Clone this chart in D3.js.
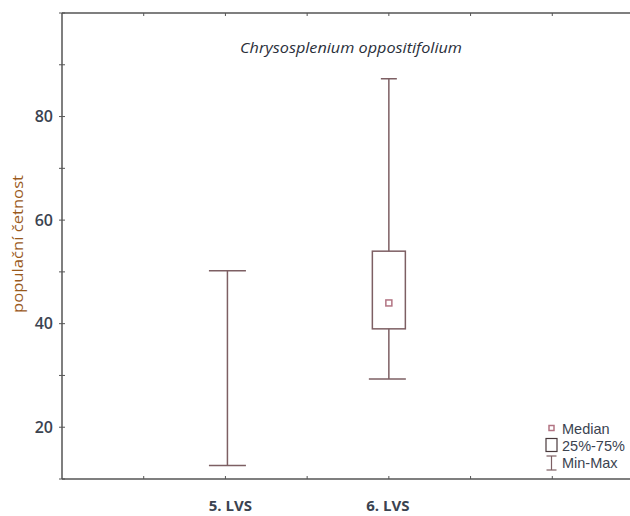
<!DOCTYPE html>
<html><head><meta charset="utf-8">
<script src="https://cdn.jsdelivr.net/npm/d3@7"></script>
<style>body{margin:0;background:#fff;}svg{display:block;}</style>
</head><body>
<svg id="c" width="630" height="516"></svg>
<script>
const categories = ["5. LVS", "6. LVS"];
const catPositions = [2, 4];
const minValues = [12.6, 29.3];
const maxValues = [50.2, 87.3];
const q1Values = [null, 39];
const q3Values = [null, 54];
const medianValues = [null, 44];
const yTicks = [20, 40, 60, 80];
const yMinorTicks = [10, 30, 50, 70, 90, 100];
const xTicks = [1, 2, 3, 4, 5, 6, 7];
const title = "Chrysosplenium oppositifolium";
const yLabel = "populační četnost";
const legendLabels = ["Median", "25%-75%", "Min-Max"];

(function () {
const svg = d3.select("#c");
const pl = 62, pt = 13, pb = 479, pr = 634;
const x = d3.scaleLinear().domain([0, 7]).range([pl, pr]);
const y = d3.scaleLinear().domain([10, 100]).range([pb, pt]);
const axisCol = "#555", markCol = "#7d5f63", medCol = "#b27483";
const font = "'Open Sans', 'Noto Sans', sans-serif";
const txtCol = "#3b4350";

// frame
svg.append("line").attr("x1", pl).attr("x2", 630).attr("y1", pt).attr("y2", pt).attr("stroke", axisCol).attr("stroke-width", 1.5);
svg.append("line").attr("x1", pl).attr("x2", 630).attr("y1", pb).attr("y2", pb).attr("stroke", axisCol).attr("stroke-width", 1.5);
svg.append("line").attr("x1", pl).attr("x2", pl).attr("y1", pt).attr("y2", pb).attr("stroke", axisCol).attr("stroke-width", 1.5);

// x ticks top & bottom
xTicks.forEach(t => {
  svg.append("line").attr("x1", x(t)).attr("x2", x(t)).attr("y1", pt).attr("y2", pt + 3).attr("stroke", axisCol);
  svg.append("line").attr("x1", x(t)).attr("x2", x(t)).attr("y1", pb).attr("y2", pb - 3).attr("stroke", axisCol);
});
// y ticks
yTicks.concat(yMinorTicks).forEach(t => {
  svg.append("line").attr("x1", pl - 3).attr("x2", pl + 3).attr("y1", y(t)).attr("y2", y(t)).attr("stroke", axisCol);
});
yTicks.forEach(t => {
  svg.append("text").attr("x", 53).attr("y", y(t)).attr("dy", "0.36em").attr("text-anchor", "end")
    .attr("font-family", font).attr("font-size", 16).attr("font-weight", 600).attr("fill", txtCol).text(t);
});
// x labels
const labelShift = [5, -1];
categories.forEach((c, i) => {
  svg.append("text").attr("x", x(catPositions[i]) + labelShift[i]).attr("y", 511).attr("text-anchor", "middle")
    .attr("font-family", font).attr("font-size", 15).attr("font-weight", 700).attr("fill", txtCol).text(c);
});
// y label
svg.append("text").attr("transform", `translate(23,244) rotate(-90)`).attr("text-anchor", "middle")
  .attr("font-family", font).attr("font-size", 14).attr("textLength", 138).attr("lengthAdjust", "spacingAndGlyphs")
  .attr("fill", "#9a5a1c").text(yLabel);
// title
svg.append("text").attr("x", 351).attr("y", 53).attr("text-anchor", "middle").attr("font-family", font)
  .attr("font-style", "italic").attr("font-size", 15).attr("textLength", 222).attr("lengthAdjust", "spacingAndGlyphs")
  .attr("fill", "#2a2f3a").text(title);

// boxes
categories.forEach((c, i) => {
  const cx = x(catPositions[i]) + (i === 0 ? 2 : 0);
  const capW = 37;
  const g = svg.append("g").attr("stroke", markCol).attr("stroke-width", 1.5).attr("fill", "none");
  if (q1Values[i] == null) {
    g.append("line").attr("x1", cx).attr("x2", cx).attr("y1", y(maxValues[i])).attr("y2", y(minValues[i]));
    g.append("line").attr("x1", cx - capW / 2).attr("x2", cx + capW / 2).attr("y1", y(maxValues[i])).attr("y2", y(maxValues[i]));
    g.append("line").attr("x1", cx - capW / 2).attr("x2", cx + capW / 2).attr("y1", y(minValues[i])).attr("y2", y(minValues[i]));
  } else {
    const bw = 33;
    g.append("line").attr("x1", cx).attr("x2", cx).attr("y1", y(maxValues[i])).attr("y2", y(q3Values[i]));
    g.append("line").attr("x1", cx).attr("x2", cx).attr("y1", y(q1Values[i])).attr("y2", y(minValues[i]));
    g.append("line").attr("x1", cx - 8).attr("x2", cx + 8).attr("y1", y(maxValues[i])).attr("y2", y(maxValues[i]));
    g.append("line").attr("x1", cx - 20).attr("x2", cx + 17).attr("y1", y(minValues[i])).attr("y2", y(minValues[i]));
    g.append("rect").attr("x", cx - bw / 2).attr("y", y(q3Values[i])).attr("width", bw).attr("height", y(q1Values[i]) - y(q3Values[i]));
    svg.append("rect").attr("x", cx - 3).attr("y", y(medianValues[i]) - 3).attr("width", 6).attr("height", 6)
      .attr("fill", "none").attr("stroke", medCol).attr("stroke-width", 1.5);
  }
});

// legend
const lg = svg.append("g");
lg.append("rect").attr("x", 549).attr("y", 425.5).attr("width", 5).attr("height", 5).attr("fill", "none").attr("stroke", medCol).attr("stroke-width", 1.5);
lg.append("rect").attr("x", 546).attr("y", 438.5).attr("width", 11).attr("height", 13).attr("fill", "none").attr("stroke", "#4a3a3c").attr("stroke-width", 1.2);
lg.append("line").attr("x1", 551.5).attr("x2", 551.5).attr("y1", 456).attr("y2", 470).attr("stroke", markCol).attr("stroke-width", 1.2);
lg.append("line").attr("x1", 546.5).attr("x2", 556.5).attr("y1", 456).attr("y2", 456).attr("stroke", markCol).attr("stroke-width", 1.2);
lg.append("line").attr("x1", 546.5).attr("x2", 556.5).attr("y1", 470).attr("y2", 470).attr("stroke", markCol).attr("stroke-width", 1.2);
const ly = [434, 451, 468];
legendLabels.forEach((l, i) => {
  lg.append("text").attr("x", 562).attr("y", ly[i]).attr("font-family", "'Liberation Sans', Arial, sans-serif")
    .attr("font-size", 14.5).attr("fill", txtCol).text(l);
});
})();
</script>
</body></html>
